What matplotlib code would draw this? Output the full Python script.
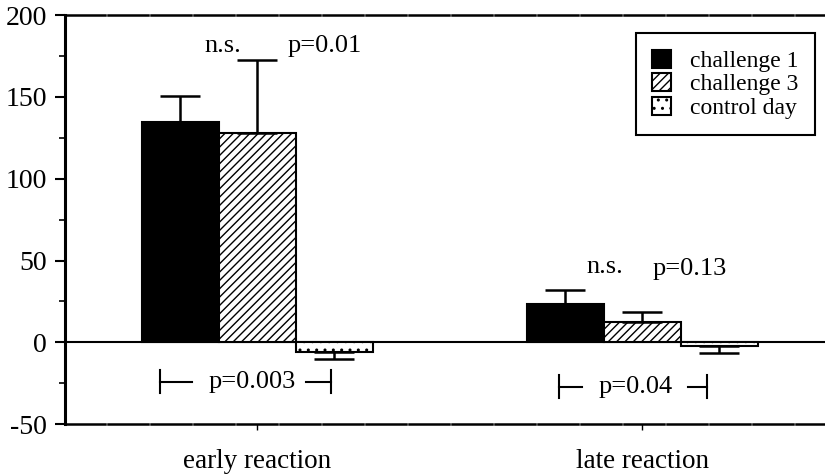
import matplotlib.pyplot as plt
import numpy as np

plt.rcParams['font.family'] = ['Liberation Serif', 'DejaVu Serif']
plt.rcParams['hatch.linewidth'] = 1.0

groups = ['early reaction', 'late reaction']
series = ['challenge 1', 'challenge 3', 'control day']
values = {
    'challenge 1': [135, 23.4],
    'challenge 3': [128, 12.7],
    'control day': [-6, -2.5],
}
errors = {
    'challenge 1': [15.5, 8.7],
    'challenge 3': [44.6, 6.1],
    'control day': [4, 4],
}
fills = {'challenge 1': 'black', 'challenge 3': 'white', 'control day': 'white'}
hatches = {'challenge 1': None, 'challenge 3': '////', 'control day': '..'}

fig = plt.figure(figsize=(8.25, 4.75), dpi=100)
ax = fig.add_axes([0.0788, 0.107, 0.9212, 0.861])

x = np.arange(len(groups))
width = 0.2
for i, name in enumerate(series):
    vals = np.array(values[name])
    errs = np.array(errors[name])
    pos = x + (i - 1) * width
    ax.bar(pos, vals, width, color=fills[name], edgecolor='black', linewidth=1.5,
           hatch=hatches[name], label=name, zorder=2)
    # one-sided error bars in the direction of the bar
    yerr = np.vstack([np.where(vals < 0, errs, 0), np.where(vals >= 0, errs, 0)])
    ax.errorbar(pos, vals, yerr=yerr, fmt='none', ecolor='black', elinewidth=1.8,
                capsize=14.5, capthick=1.8, zorder=3)

ax.axhline(0, color='black', linewidth=1.5, zorder=1)

# significance labels
fs = 19
ax.text(-0.09, 181, 'n.s.', ha='center', va='center', fontsize=fs)
ax.text(0.174, 181, 'p=0.01', ha='center', va='center', fontsize=fs)
ax.text(0.904, 46, 'n.s.', ha='center', va='center', fontsize=fs)
ax.text(1.122, 45, 'p=0.13', ha='center', va='center', fontsize=fs)

brackets = [(-0.252, -0.169, 0.127, 0.19, -0.013, -24, 'p=0.003'),
            (0.784, 0.844, 1.119, 1.169, 0.984, -27, 'p=0.04')]
for x0, x1, x2, x3, xt, yb, label in brackets:
    ax.plot([x0, x1], [yb, yb], color='black', lw=1.5)
    ax.plot([x0, x0], [yb - 7, yb + 7], color='black', lw=1.5)
    ax.plot([x2, x3], [yb, yb], color='black', lw=1.5)
    ax.plot([x3, x3], [yb - 7, yb + 7], color='black', lw=1.5)
    ax.text(xt, yb, label, ha='center', va='center', fontsize=fs)

ax.set_xlim(-0.5, 1.475)
ax.set_ylim(-50, 200)
ax.set_xticks(x)
ax.set_xticklabels(groups, fontsize=19.5)
ax.set_yticks([-50, 0, 50, 100, 150, 200])
ax.set_yticklabels(['-50', '0', '50', '100', '150', '200'], fontsize=20)
ax.set_yticks(np.arange(-25, 200, 50), minor=True)
ax.tick_params(axis='y', which='major', direction='out', length=7, width=1.5, pad=6)
ax.tick_params(axis='y', which='minor', direction='out', length=4, width=1.2)
ax.tick_params(axis='x', direction='out', length=4, width=1.0, pad=14)

ax.spines['left'].set_linewidth(2.2)
for side in ['top', 'bottom']:
    ax.spines[side].set_linewidth(1.8)
    ax.spines[side].set_linestyle((0, (16, 1.2)))
ax.spines['right'].set_visible(False)

leg = ax.legend(loc='upper right', bbox_to_anchor=(0.987, 0.956), borderaxespad=0,
                fontsize=17, fancybox=False, framealpha=1, edgecolor='black',
                handlelength=0.8, handleheight=0.8, labelspacing=0.05,
                handletextpad=0.8, borderpad=0.7)
leg.get_frame().set_linewidth(1.5)

fig.savefig('out.png', dpi=100)
